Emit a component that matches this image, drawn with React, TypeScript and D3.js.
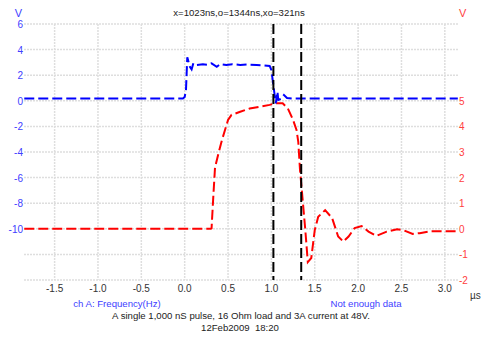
import React from 'react';
import * as d3 from 'd3';

// channel A (blue, left axis) — time in µs, volts
const blueT = [-1.85, -0.02, 0.0, 0.015, 0.03, 0.06, 0.08, 0.1, 0.14, 0.21, 0.26, 0.31, 0.37, 0.41, 0.48, 0.55, 0.64, 0.72, 0.83, 0.92, 0.98, 1.0, 1.04, 1.05, 1.07, 1.08, 1.12, 1.145, 1.18, 1.25, 3.15];
const blueV = [0.18, 0.18, 0.3, 0.84, 3.4, 2.66, 2.46, 2.93, 2.8, 2.85, 2.82, 2.93, 2.66, 2.87, 2.8, 2.86, 2.8, 2.84, 2.8, 2.76, 2.72, 2.4, 0.32, -0.2, 0.71, 0.06, 0.2, 0.45, 0.22, 0.18, 0.18];

// channel B (red, right axis)
const redT = [-1.85, 0.3, 0.31, 0.33, 0.35, 0.39, 0.43, 0.465, 0.5, 0.54, 0.64, 0.75, 0.87, 0.98, 1.04, 1.13, 1.19, 1.25, 1.29, 1.31, 1.33, 1.39, 1.42, 1.46, 1.5, 1.54, 1.62, 1.7, 1.77, 1.83, 1.89, 1.96, 2.04, 2.12, 2.21, 2.33, 2.45, 2.52, 2.63, 2.71, 2.83, 3.15];
const redV = [0, 0, 0.02, 1.25, 2.4, 2.95, 3.47, 3.86, 4.25, 4.45, 4.57, 4.7, 4.77, 4.84, 4.9, 4.9, 4.7, 4.25, 3.86, 3.4, 2.3, 0.0, -1.3, -1.14, -0.05, 0.47, 0.73, 0.42, -0.3, -0.5, -0.3, 0.03, 0.11, -0.11, -0.28, -0.11, -0.02, -0.05, -0.2, -0.17, -0.1, -0.1];

const xTicks = [-1.5, -1.0, -0.5, 0.0, 0.5, 1.0, 1.5, 2.0, 2.5, 3.0];
const leftTicks = [6, 4, 2, 0, -2, -4, -6, -8, -10];
const gridLeft = [6, 4, 2, 0, -2, -4, -6, -8, -10, -12, -14];
const rightTicks = [5, 4, 3, 2, 1, 0, -1, -2];
const cursors = [1.023, 1.344];

const W = 484;
const H = 337;
const FONT = '"Liberation Sans", Arial, sans-serif';
const BLUE = '#0000ff';
const RED = '#ff0000';
const BLUE_TXT = '#4040ff';
const RED_TXT = '#ff4040';
const FS = 9.6;

export default function App() {
  const x = d3.scaleLinear().domain([-1.853, 3.152]).range([24, 458]);
  const yL = d3.scaleLinear().domain([-14, 6]).range([280, 24]);
  const yR = d3.scaleLinear().domain([-2, 8]).range([280, 24]);

  const blueLine = d3.line<number>().x((_, i) => x(blueT[i])).y(d => yL(d))(blueV) || '';
  const redLine = d3.line<number>().x((_, i) => x(redT[i])).y(d => yR(d))(redV) || '';

  return (
    <svg width={W} height={H} style={{ position: 'absolute', left: 0, top: 0, background: '#fff' }} fontFamily={FONT}>
      {/* grid */}
      {gridLeft.map(t => (
        <line key={'h' + t} x1={24} x2={458} y1={yL(t)} y2={yL(t)} stroke="#dedede" strokeWidth={1.5} strokeDasharray="2,1" />
      ))}
      {xTicks.map(t => (
        <line key={'v' + t} x1={x(t)} x2={x(t)} y1={24} y2={280} stroke="#dedede" strokeWidth={1.5} strokeDasharray="2,1" />
      ))}

      {/* left axis labels */}
      <text x={22} y={17} fill={BLUE_TXT} fontSize={11} textAnchor="end">V</text>
      {leftTicks.map(t => (
        <text key={'l' + t} x={23} y={yL(t) + 4} fill={BLUE_TXT} fontSize={10} textAnchor="end">{t}</text>
      ))}

      {/* right axis labels */}
      <text x={459} y={17} fill={RED_TXT} fontSize={11}>V</text>
      {rightTicks.map(t => (
        <text key={'r' + t} x={459} y={yR(t) + 4} fill={RED_TXT} fontSize={10}>{t}</text>
      ))}

      {/* x axis labels */}
      {xTicks.map(t => (
        <text key={'x' + t} x={x(t)} y={292} fill="#333" fontSize={10} textAnchor="middle">{t.toFixed(1)}</text>
      ))}
      <text x={470} y={299} fill="#333" fontSize={10}>µs</text>

      {/* traces */}
      <path d={redLine} fill="none" stroke={RED} strokeWidth={2} strokeDasharray="10,4" />
      <path d={blueLine} fill="none" stroke={BLUE} strokeWidth={2} strokeDasharray="10,4" />

      {/* cursors */}
      {cursors.map(c => (
        <line key={'c' + c} x1={x(c)} x2={x(c)} y1={24} y2={280} stroke="#000" strokeWidth={2} strokeDasharray="10,4" />
      ))}

      {/* header / footer text */}
      <text x={239} y={16} fill="#222" fontSize={FS} textAnchor="middle">x=1023ns,o=1344ns,xo=321ns</text>
      <text x={117} y={307} fill={BLUE_TXT} fontSize={FS} textAnchor="middle">ch A: Frequency(Hz)</text>
      <text x={366} y={307} fill={BLUE_TXT} fontSize={FS} textAnchor="middle">Not enough data</text>
      <text x={241} y={319} fill="#222" fontSize={FS} textAnchor="middle">A single 1,000 nS pulse, 16 Ohm load and 3A current at 48V.</text>
      <text x={240} y={331} fill="#222" fontSize={FS} textAnchor="middle" style={{ whiteSpace: 'pre' }}>12Feb2009  18:20</text>
    </svg>
  );
}
